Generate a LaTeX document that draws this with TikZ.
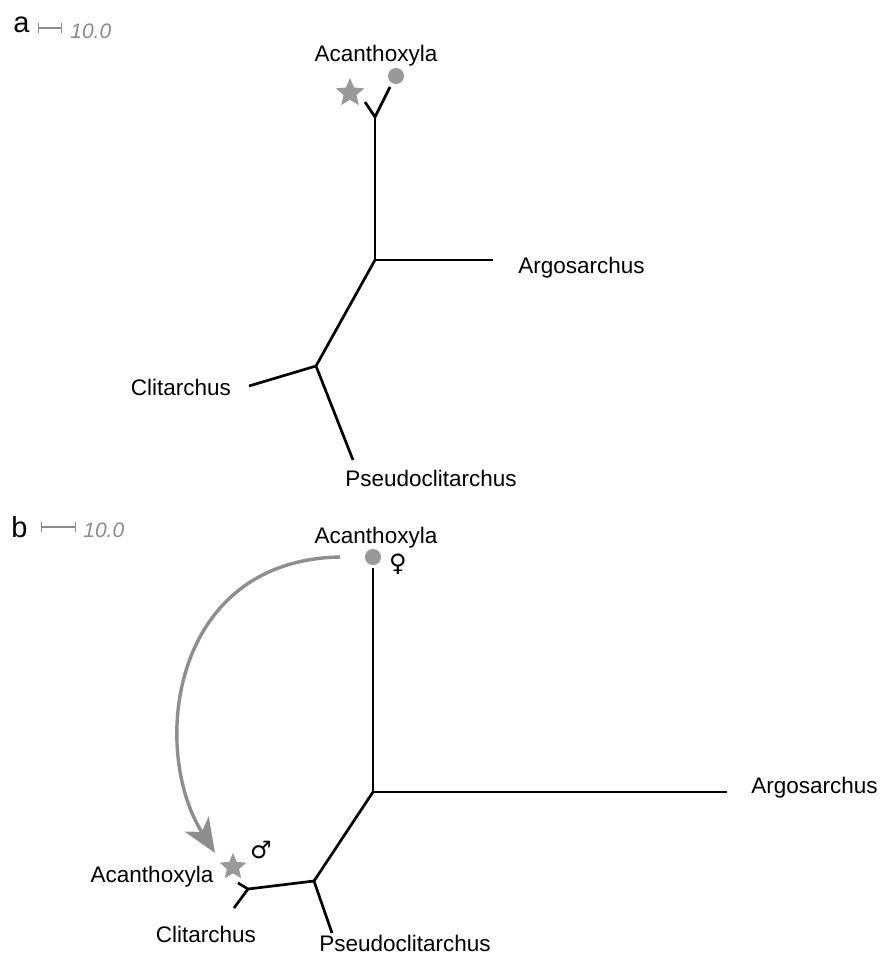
\documentclass[tikz,border=0pt]{standalone}
\usepackage{fontspec}
\setmainfont{Liberation Sans}
\newfontfamily\symfont{DejaVu Sans}
\usetikzlibrary{shapes.geometric,arrows.meta}
\definecolor{markgray}{HTML}{999999}
\definecolor{arrowgray}{HTML}{8E8E8E}
\definecolor{scalegray}{HTML}{8C8C8C}

\begin{document}
\begin{tikzpicture}[x=1pt,y=-1pt,line width=2.7pt]
\useasboundingbox (0,0) rectangle (879,958);

        % panel letters and scale bars
        \begin{scope}[every node/.style={inner sep=0pt,font=\fontsize{29}{30}\selectfont}]
          \node[anchor=base west] (pa) at (12,33)  {a};
          \node[anchor=base west] (pb) at (10,537) {b};
        \end{scope}
        \begin{scope}[every node/.style={inner sep=0pt,text=scalegray,font=\fontsize{21}{22}\selectfont\itshape}]
          \node[anchor=base west] (sa) at (69,39)  {10.0};
          \node[anchor=base west] (sb) at (82,537) {10.0};
        \end{scope}
        \draw[scalegray,line width=1.3pt,{Bar[width=10pt]}-{Bar[width=10pt]}] (38,28) -- (62,28);
        \draw[scalegray,line width=1.3pt,{Bar[width=10pt]}-{Bar[width=10pt]}] (41,527) -- (76,527);

        % tip labels
        \begin{scope}[every node/.style={inner sep=0pt,anchor=base,font=\fontsize{22.5}{26}\selectfont}]
          \node (acA)  at (376,62)  {Acanthoxyla};
          \node[anchor=base west] (arA) at (517,273) {Argosarchus};
          \node (clA)  at (181,395) {Clitarchus};
          \node (psA)  at (431,486) {Pseudoclitarchus};
          \node (acB)  at (376,543) {Acanthoxyla};
          \node[anchor=base west] (arB) at (750,793) {Argosarchus};
          \node (acB2) at (152,882) {Acanthoxyla};
          \node (clB)  at (206,942) {Clitarchus};
          \node (psB)  at (405,951) {Pseudoclitarchus};
        \end{scope}

        % markers
        \begin{scope}[every node/.style={fill=markgray,inner sep=0pt}]
          \node[circle,minimum size=16pt] (dotA) at (396,76)  {};
          \node[circle,minimum size=16pt] (dotB) at (373,557) {};
          \node[star,star points=5,star point ratio=2.2,minimum size=30pt] (starA) at (350,93)  {};
          \node[star,star points=5,star point ratio=2.2,minimum size=28pt] (starB) at (233,867) {};
        \end{scope}
        \begin{scope}[every node/.style={inner sep=0pt,font=\symfont\fontsize{24}{26}\selectfont}]
          \node (fem)  at (398,564) {♀};
          \node (male) at (261,850) {♂};
        \end{scope}

        % tree a
        \coordinate (a1) at (375,117);
        \coordinate (a2) at (375,260);
        \coordinate (a3) at (316,366);
        \coordinate (a4) at (365,102);
        \coordinate (a5) at (390,87);
        \coordinate (a6) at (493,260);
        \coordinate (a7) at (249,386);
        \coordinate (a8) at (353,460);
        \draw (a4) -- (a1) -- (a5);
        \draw (a1) -- (a2) -- (a6);
        \draw (a2) -- (a3) -- (a7);
        \draw (a3) -- (a8);

        % tree b
        \coordinate (b1) at (373,568);
        \coordinate (b2) at (373,792);
        \coordinate (b3) at (314,881);
        \coordinate (b4) at (248,889);
        \coordinate (b5) at (727,792);
        \coordinate (b6) at (332,933);
        \coordinate (b7) at (238,883);
        \coordinate (b8) at (234,908);
        \draw (b1) -- (b2) -- (b5);
        \draw (b2) -- (b3) -- (b6);
        \draw (b3) -- (b4);
        \draw (b7) -- (b4) -- (b8);

        % transfer arrow
        \coordinate (m1) at (340,557);
        \coordinate (m2) at (215,853);
        \draw[arrowgray,line width=3.4pt,-{Stealth[length=34pt,width=28pt,inset=9pt]}]
          (m1) .. controls (170,560) and (150,750) .. (m2);

      \end{tikzpicture}
\end{document}
